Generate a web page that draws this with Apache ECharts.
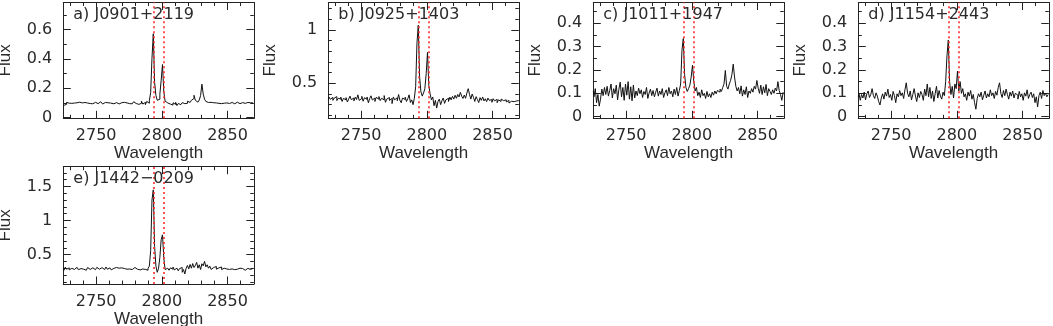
<!DOCTYPE html>
<html>
<head>
<meta charset="utf-8">
<script src="https://cdn.jsdelivr.net/npm/echarts@6/dist/echarts.min.js"></script>
<style>
html,body{margin:0;padding:0;background:#fff;}
#chart{width:1053px;height:326px;}
</style>
</head>
<body>
<div id="chart"></div>
<script>
// ---------------- DATA ----------------
const panelLabels = ['a) J0901+2119', 'b) J0925+1403', 'c) J1011+1947', 'd) J1154+2443', 'e) J1442\u22120209'];
const wavelengthStart = 2725;   // first pixel of every spectrum (Angstrom)
const wavelengthStep = 1;       // pixel width (Angstrom)
const xRange = [2725, 2870];
const xMajorTicks = [2750, 2800, 2850];
const xMinorTicks = [2730, 2740, 2760, 2770, 2780, 2790, 2810, 2820, 2830, 2840, 2860, 2870];
const mgIILines = [2794.2, 2801.2];

const yRangeA = [-0.005, 0.785];
const yMajorA = [0, 0.2, 0.4, 0.6];
const yMinorA = [0.1, 0.3, 0.5, 0.7];
const yRangeB = [0.172, 1.258];
const yMajorB = [0.5, 1];
const yMinorB = [0.2, 0.3, 0.4, 0.6, 0.7, 0.8, 0.9, 1.1, 1.2];
const yRangeC = [-0.007, 0.489];
const yMajorC = [0, 0.1, 0.2, 0.3, 0.4];
const yMinorC = [0.05, 0.15, 0.25, 0.35, 0.45];
const yRangeD = [-0.007, 0.489];
const yMajorD = [0, 0.1, 0.2, 0.3, 0.4];
const yMinorD = [0.05, 0.15, 0.25, 0.35, 0.45];
const yRangeE = [0.068, 1.79];
const yMajorE = [0.5, 1, 1.5];
const yMinorE = [0.1, 0.2, 0.3, 0.4, 0.6, 0.7, 0.8, 0.9, 1.1, 1.2, 1.3, 1.4, 1.6, 1.7];

// flux per 1 A pixel, 2725 ... 2870
const fluxA = [
0.082,0.076,0.090,0.104,0.098,0.102,0.097,0.104,0.099,0.095,
0.101,0.097,0.105,0.094,0.100,0.097,0.103,0.093,0.099,0.106,
0.096,0.101,0.094,0.100,0.097,0.104,0.095,0.099,0.108,0.096,
0.092,0.100,0.103,0.097,0.101,0.095,0.099,0.110,0.094,0.100,
0.096,0.102,0.098,0.093,0.101,0.097,0.104,0.092,0.100,0.098,
0.095,0.103,0.099,0.094,0.108,0.096,0.101,0.090,0.103,0.097,
0.112,0.092,0.104,0.088,0.110,0.098,0.115,0.170,0.405,0.572,
0.240,0.150,0.118,0.125,0.160,0.255,0.362,0.175,0.112,0.100,
0.106,0.092,0.098,0.085,0.101,0.090,0.104,0.082,0.096,0.100,
0.088,0.102,0.095,0.105,0.097,0.112,0.103,0.110,0.118,0.130,
0.152,0.118,0.105,0.112,0.120,0.150,0.228,0.160,0.125,0.110,
0.103,0.098,0.104,0.096,0.101,0.094,0.100,0.106,0.097,0.101,
0.095,0.103,0.098,0.092,0.100,0.104,0.096,0.101,0.097,0.103,
0.094,0.100,0.098,0.105,0.095,0.099,0.102,0.096,0.100,0.097,
0.103,0.095,0.099,0.101,0.097,0.100];
const fluxB = [
0.345,0.372,0.350,0.368,0.340,0.362,0.375,0.338,0.360,0.352,
0.371,0.330,0.358,0.345,0.366,0.325,0.352,0.380,0.347,0.362,
0.335,0.370,0.348,0.392,0.340,0.357,0.378,0.332,0.365,0.350,
0.372,0.318,0.356,0.383,0.344,0.362,0.330,0.369,0.351,0.376,
0.338,0.360,0.345,0.385,0.322,0.352,0.367,0.340,0.358,0.310,
0.372,0.346,0.364,0.336,0.395,0.340,0.318,0.362,0.348,0.370,
0.330,0.356,0.392,0.320,0.345,0.300,0.360,0.470,0.880,1.045,
0.560,0.420,0.380,0.410,0.450,0.590,0.790,0.480,0.400,0.345,
0.372,0.290,0.340,0.268,0.330,0.352,0.300,0.338,0.362,0.312,
0.345,0.360,0.330,0.371,0.345,0.378,0.352,0.388,0.360,0.395,
0.372,0.415,0.380,0.358,0.390,0.360,0.410,0.450,0.395,0.352,
0.400,0.368,0.330,0.375,0.348,0.320,0.366,0.340,0.372,0.335,
0.355,0.328,0.362,0.340,0.348,0.322,0.356,0.335,0.350,0.318,
0.345,0.330,0.352,0.338,0.320,0.345,0.325,0.340,0.315,0.332,
0.340,0.328,0.345,0.335,0.342,0.338];
const fluxC = [
0.110,0.085,0.120,0.060,0.095,0.045,0.075,0.118,0.090,0.125,
0.095,0.130,0.088,0.112,0.140,0.080,0.120,0.098,0.135,0.072,
0.118,0.148,0.085,0.125,0.070,0.140,0.092,0.150,0.075,0.128,
0.068,0.135,0.080,0.110,0.090,0.122,0.098,0.115,0.082,0.108,
0.095,0.125,0.078,0.102,0.118,0.090,0.112,0.085,0.105,0.122,
0.088,0.110,0.095,0.120,0.082,0.102,0.115,0.090,0.125,0.098,
0.110,0.085,0.118,0.095,0.125,0.088,0.112,0.140,0.285,0.335,
0.180,0.125,0.108,0.120,0.135,0.170,0.220,0.150,0.110,0.125,
0.090,0.105,0.082,0.115,0.090,0.100,0.078,0.108,0.085,0.098,
0.082,0.105,0.092,0.110,0.098,0.112,0.105,0.118,0.108,0.125,
0.140,0.198,0.130,0.118,0.140,0.155,0.180,0.225,0.170,0.130,
0.110,0.125,0.098,0.132,0.088,0.115,0.095,0.128,0.082,0.110,
0.100,0.120,0.105,0.130,0.118,0.155,0.122,0.100,0.135,0.095,
0.128,0.102,0.138,0.090,0.120,0.108,0.095,0.115,0.100,0.122,
0.110,0.150,0.112,0.095,0.070,0.105];
const fluxD = [
0.085,0.100,0.070,0.095,0.080,0.105,0.072,0.098,0.110,0.082,
0.095,0.120,0.090,0.078,0.102,0.088,0.065,0.050,0.080,0.098,
0.075,0.105,0.088,0.118,0.082,0.095,0.070,0.108,0.090,0.060,
0.098,0.085,0.112,0.090,0.102,0.078,0.115,0.145,0.100,0.085,
0.110,0.072,0.095,0.120,0.088,0.065,0.102,0.082,0.108,0.095,
0.070,0.118,0.090,0.140,0.085,0.125,0.078,0.110,0.065,0.098,
0.130,0.080,0.112,0.088,0.075,0.105,0.090,0.150,0.260,0.328,
0.150,0.095,0.130,0.080,0.140,0.120,0.195,0.110,0.150,0.100,
0.120,0.085,0.098,0.070,0.105,0.088,0.112,0.075,0.095,0.060,
0.032,0.078,0.098,0.085,0.105,0.072,0.092,0.110,0.080,0.098,
0.085,0.115,0.090,0.102,0.078,0.108,0.092,0.125,0.145,0.100,
0.082,0.112,0.090,0.118,0.095,0.075,0.105,0.088,0.110,0.080,
0.100,0.092,0.075,0.108,0.085,0.098,0.070,0.102,0.088,0.115,
0.078,0.095,0.105,0.082,0.098,0.060,0.085,0.042,0.090,0.105,
0.078,0.112,0.090,0.100,0.085,0.095];
const fluxE = [
0.300,0.270,0.315,0.285,0.305,0.275,0.298,0.318,0.282,0.300,
0.290,0.312,0.278,0.295,0.305,0.285,0.300,0.270,0.295,0.310,
0.282,0.298,0.288,0.305,0.278,0.300,0.312,0.285,0.298,0.290,
0.308,0.280,0.300,0.318,0.285,0.295,0.305,0.275,0.298,0.290,
0.310,0.282,0.300,0.292,0.305,0.278,0.295,0.312,0.285,0.300,
0.288,0.305,0.280,0.298,0.290,0.310,0.285,0.298,0.275,0.300,
0.288,0.305,0.282,0.295,0.270,0.300,0.330,0.560,1.300,1.450,
0.620,0.330,0.240,0.300,0.460,0.720,0.790,0.450,0.280,0.300,
0.325,0.270,0.305,0.285,0.318,0.275,0.300,0.290,0.262,0.295,
0.310,0.240,0.280,0.215,0.300,0.340,0.290,0.355,0.300,0.368,
0.310,0.340,0.385,0.300,0.350,0.280,0.365,0.335,0.400,0.320,
0.350,0.300,0.330,0.282,0.310,0.295,0.325,0.285,0.305,0.290,
0.318,0.280,0.300,0.312,0.288,0.300,0.282,0.305,0.290,0.298,
0.278,0.300,0.292,0.285,0.300,0.278,0.295,0.288,0.270,0.292,
0.285,0.298,0.280,0.295,0.290,0.300];

// ---------------- STYLE / LAYOUT ----------------
const axisColor = '#222';
const textColor = '#2a2a2a';
const numFont = 'DejaVu Sans';
const wordFont = 'Liberation Sans';
const boxes = [
  [63.3, 2.5, 190.5, 115.8],
  [328.3, 2.5, 190.5, 115.8],
  [593.3, 2.5, 190.5, 115.8],
  [858.3, 2.5, 190.5, 115.8],
  [63.3, 166.7, 190.5, 117.3]
];
const panels = [
  {label: panelLabels[0], flux: fluxA, yr: yRangeA, yMaj: yMajorA, yMin: yMinorA},
  {label: panelLabels[1], flux: fluxB, yr: yRangeB, yMaj: yMajorB, yMin: yMinorB},
  {label: panelLabels[2], flux: fluxC, yr: yRangeC, yMaj: yMajorC, yMin: yMinorC},
  {label: panelLabels[3], flux: fluxD, yr: yRangeD, yMaj: yMajorD, yMin: yMinorD},
  {label: panelLabels[4], flux: fluxE, yr: yRangeE, yMaj: yMajorE, yMin: yMinorE}
];

function pairs(flux) {
  return flux.map((f, i) => [wavelengthStart + i * wavelengthStep, f]);
}
const plain = v => String(+v.toFixed(3));

const grids = [], xAxes = [], yAxes = [], series = [], graphics = [];
const majLen = 7.5, minLen = 3.5;

panels.forEach((p, k) => {
  const [l, t, w, h] = boxes[k];
  grids.push({left: l, top: t, width: w, height: h, containLabel: false, outerBoundsMode: 'none', show: false});
  const xb = {type: 'value', gridIndex: k, min: xRange[0], max: xRange[1], splitLine: {show: false}, axisLabel: {show: false}};
  const yb = {type: 'value', gridIndex: k, min: p.yr[0], max: p.yr[1], splitLine: {show: false}, axisLabel: {show: false}};
  const line = {show: true, onZero: false, lineStyle: {color: axisColor, width: 1}};
  const noLine = {show: false, onZero: false};
  const tick = (vals, len) => ({show: true, inside: true, length: len, customValues: vals, lineStyle: {color: axisColor, width: 1}});
  const xi = xAxes.length, yi = yAxes.length;
  xAxes.push(Object.assign({}, xb, {
    position: 'bottom', axisLine: line, axisTick: tick(xMajorTicks, majLen),
    axisLabel: {show: true, customValues: xMajorTicks, formatter: plain, margin: 10, fontFamily: numFont, fontSize: 16, color: textColor},
    name: 'Wavelength', nameLocation: 'middle', nameGap: 21,
    nameTextStyle: {fontFamily: wordFont, fontSize: 17, color: textColor}
  }));
  xAxes.push(Object.assign({}, xb, {position: 'bottom', axisLine: noLine, axisTick: tick(xMinorTicks, minLen)}));
  xAxes.push(Object.assign({}, xb, {position: 'top', axisLine: line, axisTick: tick(xMajorTicks, majLen)}));
  xAxes.push(Object.assign({}, xb, {position: 'top', axisLine: noLine, axisTick: tick(xMinorTicks, minLen)}));
  yAxes.push(Object.assign({}, yb, {
    position: 'left', axisLine: line, axisTick: tick(p.yMaj, majLen),
    axisLabel: {show: true, customValues: p.yMaj, formatter: plain, margin: 11, fontFamily: numFont, fontSize: 16, color: textColor},
    name: 'Flux', nameLocation: 'middle', nameGap: 49,
    nameTextStyle: {fontFamily: wordFont, fontSize: 17, color: textColor}
  }));
  yAxes.push(Object.assign({}, yb, {position: 'left', axisLine: noLine, axisTick: tick(p.yMin, minLen)}));
  yAxes.push(Object.assign({}, yb, {position: 'right', axisLine: line, axisTick: tick(p.yMaj, majLen)}));
  yAxes.push(Object.assign({}, yb, {position: 'right', axisLine: noLine, axisTick: tick(p.yMin, minLen)}));

  series.push({
    type: 'line', xAxisIndex: xi, yAxisIndex: yi, data: pairs(p.flux),
    step: 'middle', showSymbol: false, symbol: 'none', silent: true,
    lineStyle: {color: '#111', width: 1}, z: 3,
    markLine: {
      silent: true, symbol: ['none', 'none'], label: {show: false},
      lineStyle: {color: '#ff2a2a', type: [2, 3], width: 1.6},
      data: mgIILines.map(v => ({xAxis: v})), z: 4
    }
  });
  graphics.push({
    type: 'text', left: l + 10, top: t + 4, z: 10,
    style: {text: p.label, font: '16px "' + numFont + '"', fill: textColor}
  });
});

const chart = echarts.init(document.getElementById('chart'), null, {renderer: 'canvas'});
chart.setOption({
  animation: false,
  backgroundColor: '#fff',
  grid: grids,
  xAxis: xAxes,
  yAxis: yAxes,
  series: series,
  graphic: graphics
});
</script>
</body>
</html>
